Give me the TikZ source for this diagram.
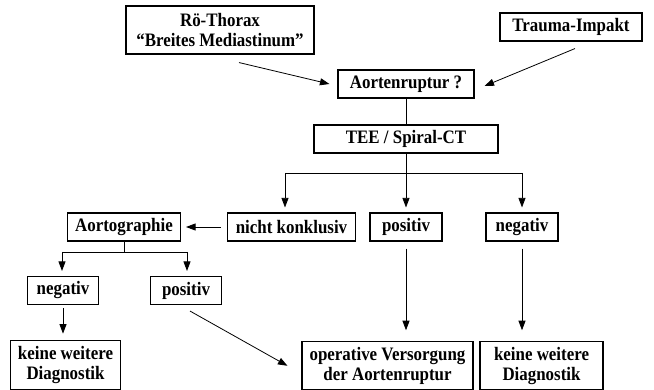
\documentclass[tikz,border=0pt]{standalone}
\usepackage{fontspec}
\setmainfont[FakeStretch=0.89]{Liberation Serif}
\usetikzlibrary{arrows.meta}

\begin{document}
\begin{tikzpicture}[x=1pt,y=-1pt,
  box/.style={draw,line width=1.1pt,font=\fontsize{19}{20}\selectfont\bfseries,
    align=center,inner sep=0pt,minimum height=28pt},
  arr/.style={-{Triangle[length=9.5pt,width=7pt]},line width=0.8pt},
  ln/.style={line width=0.8pt}]
  \useasboundingbox (0,0) rectangle (654,390);
  \node[box,minimum width=188pt,minimum height=48pt] (roe) at (220,30)
    {Rö-Thorax\\“Breites Mediastinum”};
  \node[box,minimum width=142pt] (trauma) at (571,27) {Trauma-Impakt};
  \node[box,minimum width=136pt] (ruptur) at (406,84) {Aortenruptur ?};
  \node[box,minimum width=184pt] (tee) at (406,139) {TEE / Spiral-CT};
  \node[box,minimum width=113pt] (angio) at (124,227) {Aortographie};
  \node[box,minimum width=128pt] (unklar) at (291.5,227) {nicht konklusiv};
  \node[box,minimum width=72pt] (pos) at (406,227) {positiv};
  \node[box,minimum width=72pt] (neg) at (522,227) {negativ};
  \node[box,minimum width=71pt] (angioneg) at (63,290.5) {negativ};
  \node[box,minimum width=71pt] (angiopos) at (186,290.5) {positiv};
  \node[box,minimum width=110pt,minimum height=49pt] (ende) at (65.5,364.7)
    {keine weitere\\Diagnostik};
  \node[box,minimum width=171pt,minimum height=48pt] (op) at (387.5,365.8)
    {operative Versorgung\\der Aortenruptur};
  \node[box,minimum width=123pt,minimum height=48pt] (ende2) at (541.5,365.8)
    {keine weitere\\Diagnostik};

  \coordinate (split) at (406,173);
  \coordinate (sl) at (285,173);
  \coordinate (sr) at (522,173);
  \coordinate (asplit) at (124,252);
  \coordinate (al) at (62,252);
  \coordinate (ar) at (187,252);

  \draw[arr] ([xshift=19pt,yshift=-8pt]roe.south) -- ([xshift=-8pt]ruptur.west);
  \draw[arr] ([xshift=4pt,yshift=-7pt]trauma.south) -- ([xshift=10pt,yshift=-2pt]ruptur.east);
  \draw[ln] (ruptur) -- (tee);
  \draw[ln] (tee.south) -- (split);
  \draw[ln] (sl) -- (sr);
  \draw[arr,shorten >=5pt] (sl) -- (sl |- unklar.north);
  \draw[arr,shorten >=5pt] (split) -- (pos.north);
  \draw[arr,shorten >=5pt] (sr) -- (neg.north);
  \draw[arr] ([xshift=-6pt]unklar.west) -- ([xshift=5pt]angio.east);
  \draw[ln] (angio.south) -- (asplit);
  \draw[ln] (al) -- (ar);
  \draw[arr,shorten >=5pt] (al) -- (al |- angioneg.north);
  \draw[arr,shorten >=5pt] (ar) -- (ar |- angiopos.north);
  \draw[arr,shorten <=3pt,shorten >=6pt] (angioneg.south) -- (angioneg.south |- ende.north);
  \draw[arr] ([xshift=4pt,yshift=-6pt]angiopos.south) -- ([xshift=-14pt]op.west);
  \draw[arr,shorten <=7pt,shorten >=11pt] (pos.south) -- (pos.south |- op.north);
  \draw[arr,shorten <=7pt,shorten >=11pt] (neg.south) -- (neg.south |- ende2.north);
\end{tikzpicture}
\end{document}
